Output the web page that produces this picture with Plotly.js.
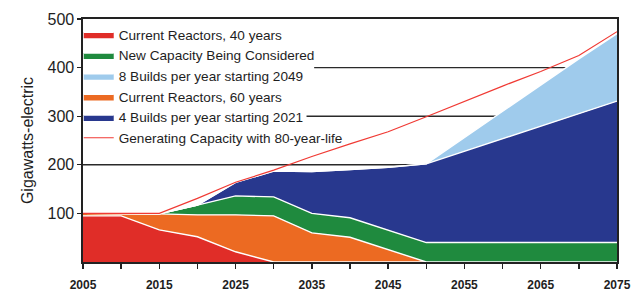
<!DOCTYPE html>
<html>
<head>
<meta charset="utf-8">
<script src="https://cdn.plot.ly/plotly-3.0.1.min.js"></script>
<style>html,body{margin:0;padding:0;background:#fff;}#chart{width:639px;height:293px;}</style>
</head>
<body>
<div id="chart"></div>
<script>
// ---- data (GWe) ----
const years = [2005,2010,2015,2020,2025,2030,2035,2040,2045,2050,2055,2060,2065,2070,2075];
const current40 = [95,95,66,52,21,0,0,0,0,0,0,0,0,0,0];          // Current Reactors, 40 years
const current60Extra = [5,5,33,45,76,95,60,51,25,0,0,0,0,0,0];    // Current Reactors, 60 years (added layer)
const newCapacity = [0,0,0,20,39,39,40,40,40,40,40,40,40,40,40];  // New Capacity Being Considered
const builds4 = [0,0,0,0,28,53,86,99,130,162,188,214,240,265,291];// 4 Builds per year starting 2021
const builds8 = [0,0,0,0,0,0,0,0,0,0,28,56,84,113,139];           // 8 Builds per year starting 2049
const capacity80 = [100,100,100,131,164,189,217,243,268,299,331,362,392,425,474]; // 80-year-life line
const xTickVals = [2005,2015,2025,2035,2045,2055,2065,2075];
const yTickVals = [100,200,300,400,500];
const names = {
  c40: 'Current Reactors, 40 years',
  nc: 'New Capacity Being Considered',
  b8: '8 Builds per year starting 2049',
  c60: 'Current Reactors, 60 years',
  b4: '4 Builds per year starting 2021',
  g80: 'Generating Capacity with 80-year-life'
};

const sep = {color:'#ffffff', width:1.4, shape:'linear'};
function area(y, name, color, rank){
  return {x:years, y:y, name:name, type:'scatter', mode:'lines', stackgroup:'one',
          fillcolor:color, line:sep, legendrank:rank, hoverinfo:'x+y+name'};
}
const traces = [
  area(current40, names.c40, '#e02d28', 1),
  area(current60Extra, names.c60, '#ec6a22', 4),
  area(newCapacity, names.nc, '#1f8a3e', 2),
  area(builds4, names.b4, '#28388e', 5),
  area(builds8, names.b8, '#9fcbec', 3),
  {x:years, y:capacity80, name:names.g80, type:'scatter', mode:'lines',
   line:{color:'#f03a34', width:1.2}, legendrank:6}
];

const gridCol = '#2a2a2a';
const layout = {
  width:639, height:293,
  margin:{l:83, r:22, t:19, b:31},
  paper_bgcolor:'#ffffff', plot_bgcolor:'#ffffff',
  font:{family:'"Liberation Sans", Arial, sans-serif', color:'#1e1e1e'},
  showlegend:true,
  legend:{x:-0.008, y:1.0, xanchor:'left', yanchor:'top', bgcolor:'rgba(0,0,0,0)',
          font:{size:13.6, color:'#1e1e1e'}, traceorder:'normal', itemwidth:30, tracegroupgap:0},
  xaxis:{range:[2005,2075], tickvals:xTickVals, ticks:'outside', ticklen:5, tickwidth:1.3,
         tickcolor:'#222', showline:true, linecolor:'#222', linewidth:1.6, mirror:true,
         showgrid:false, zeroline:false, ticklabelstandoff:6,
         tickfont:{size:12, color:'#1e1e1e', weight:'bold'},
         minor:{tick0:2005, dtick:5, ticks:'outside', ticklen:5, tickcolor:'#222', tickwidth:1.3, showgrid:false}},
  yaxis:{range:[0,500], tickvals:yTickVals, ticks:'outside', ticklen:4, tickwidth:1.3, tickcolor:'#222',
         showline:true, linecolor:'#222', linewidth:1.6, mirror:true, showgrid:false, zeroline:false,
         tickfont:{size:16, color:'#1e1e1e'},
         title:{text:'Gigawatts-electric', font:{size:16, color:'#1e1e1e'}, standoff:10}},
  shapes:[
    {type:'line', layer:'below', xref:'x', yref:'y', x0:2005, x1:2075, y0:200, y1:200, line:{color:gridCol, width:1.4}},
    {type:'line', layer:'below', xref:'x', yref:'y', x0:2034.3, x1:2075, y0:300, y1:300, line:{color:gridCol, width:1.4}},
    {type:'line', layer:'below', xref:'x', yref:'y', x0:2035.3, x1:2075, y0:400, y1:400, line:{color:gridCol, width:1.4}}
  ]
};
Plotly.newPlot('chart', traces, layout, {displayModeBar:false, staticPlot:true});
</script>
</body>
</html>
